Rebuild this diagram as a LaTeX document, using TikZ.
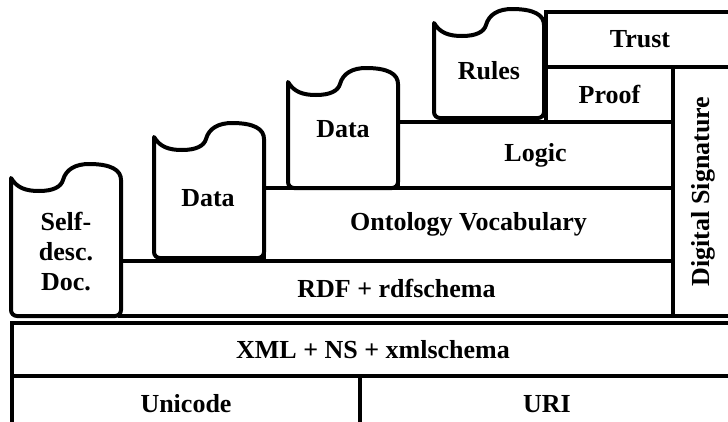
\documentclass[tikz,border=0pt]{standalone}
\usepackage{fontspec}
\setmainfont{Liberation Serif}
\usepackage{tikz}

\newcommand{\wavydoc}[2]{%
\draw [docline, shift={#1}] (0,0) -- (0,{6-#2}) arc (180:270:6pt) -- (104,-#2) arc (270:360:6pt) -- (110,-2)
  .. controls (110,8) and (100,14) .. (78,14)
  .. controls (65,14) and (55,9) .. (52,-2)
  .. controls (50,-9) and (42,-13) .. (28,-13)
  .. controls (15,-13) and (6,-10) .. (0,0) -- cycle;}

\begin{document}
\begin{tikzpicture}[x=1pt,y=1pt]
\tikzstyle{every node}+=[inner sep=0pt, align=center, font=\bfseries\fontsize{26}{30}\selectfont]
\tikzstyle{layerbox}=[draw, line width=4pt]
\tikzstyle{docline}=[fill=white, line width=4pt, line join=round, line cap=round]
\useasboundingbox (0,0) rectangle (728,-421);
\clip (0,0) rectangle (728,-421);
\node [layerbox, minimum width=348pt, minimum height=56pt] (unicode) at (186,-404) {Unicode};
\node [layerbox, minimum width=374pt, minimum height=56pt] (uri) at (547,-404) {URI};
\node [layerbox, minimum width=722pt, minimum height=53pt] (xml) at (373,-349.5) {XML + NS + xmlschema};
\node [layerbox, minimum width=553pt, minimum height=55pt] (rdf) at (396.5,-288.5) {RDF + rdfschema};
\node [layerbox, minimum width=409pt, minimum height=73pt] (onto) at (468.5,-224.5) {Ontology Vocabulary};
\node [layerbox, minimum width=275pt, minimum height=66pt] (logic) at (535.5,-155) {Logic};
\node [layerbox, minimum width=127pt, minimum height=55pt] (proof) at (609.5,-94.5) {Proof};
\node [layerbox, minimum width=188pt, minimum height=55pt] (trust) at (640,-39.5) {Trust};
\node [layerbox, rotate=90, minimum width=249pt, minimum height=61pt] (digsig) at (703.5,-191.5) {Digital Signature};
\wavydoc{(11,-178)}{138}
\wavydoc{(154,-137)}{121}
\wavydoc{(288,-82)}{106}
\wavydoc{(434,-23)}{95}
\node (selfdesc) at (66,-252) {Self-\\desc.\\Doc.};
\node (data1) at (208,-198) {Data};
\node (data2) at (343,-129) {Data};
\node (rules) at (489,-71) {Rules};
\end{tikzpicture}
\end{document}
